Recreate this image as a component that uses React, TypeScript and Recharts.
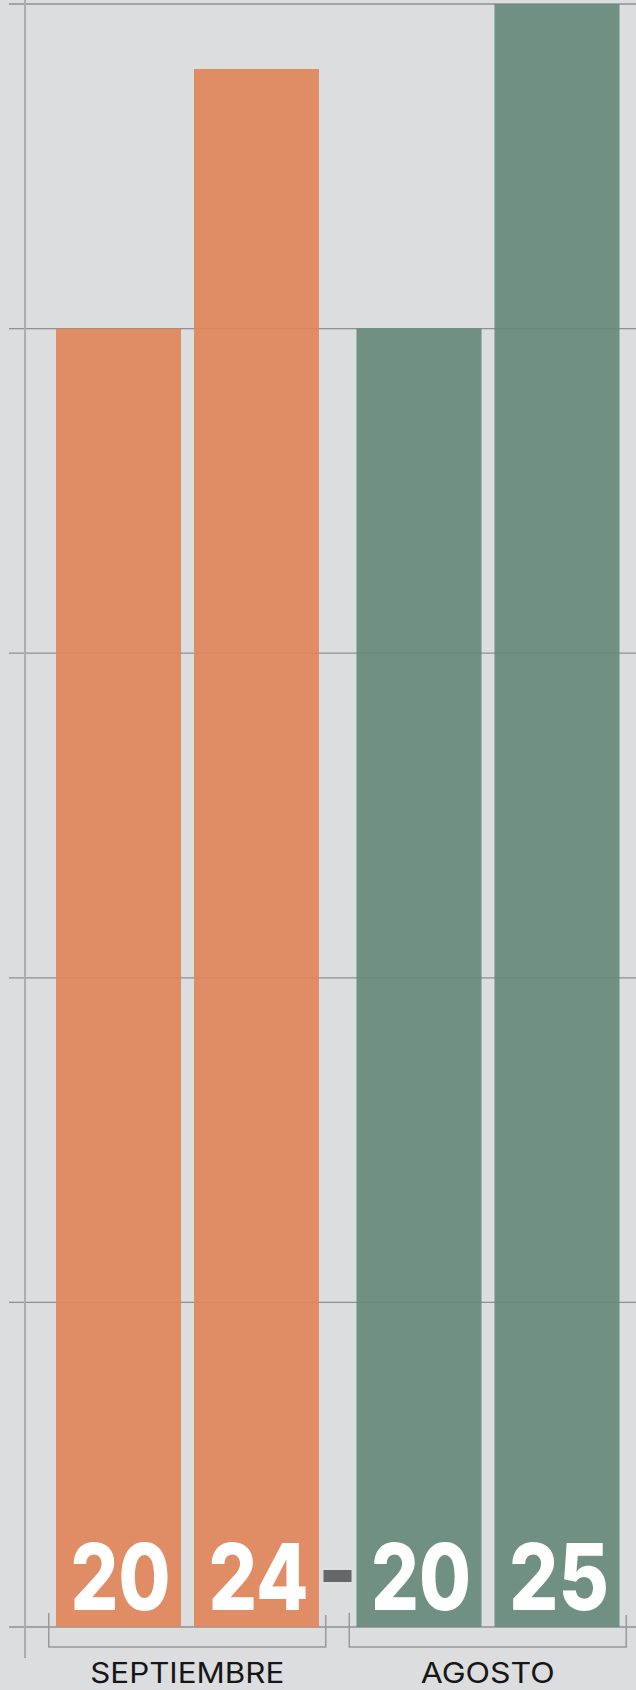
import { Bar, BarChart, CartesianGrid, Cell, LabelList, XAxis, YAxis } from "recharts";

const months = ["SEPTIEMBRE", "AGOSTO"];
const firstValues = [4, 4];
const secondValues = [4.8, 5];
const firstLabels = ["20", "20"];
const secondLabels = ["24", "25"];
const yTicks = [0, 1, 2, 3, 4, 5];

const COLORS = ["#e0845a", "#65897a"];
const BG = "#dcdddf";
// widths of the month labels in the original lettering
const MONTH_WIDTH: Record<string, number> = { SEPTIEMBRE: 194, AGOSTO: 134 };

const W = 640;
const H = 1690;
const MARGIN = { top: 4, right: 2, bottom: 0, left: 9 };
const PAD_LEFT = 28;
const BAND = (W - MARGIN.left - MARGIN.right - PAD_LEFT) / months.length;

const data = months.map((m, i) => ({
  month: m,
  first: firstValues[i],
  second: secondValues[i],
  firstLabel: firstLabels[i],
  secondLabel: secondLabels[i],
}));

function YearLabel(props: any) {
  const { x, y, width, height, value } = props;
  const bottom = y + height;
  return (
    <text
      x={x + width / 2 + 2}
      y={bottom - 17}
      textAnchor="middle"
      fill="#ffffff"
      fontFamily="Inter, sans-serif"
      fontWeight={800}
      fontSize={92}
      textLength={100}
      lengthAdjust="spacingAndGlyphs"
    >
      {value}
    </text>
  );
}

function MonthTick(props: any) {
  const { x, y, payload, index } = props;
  const base = y;
  const half = 138.5;
  return (
    <g>
      <path
        d={`M${x - half},${base - 16} V${base + 18} H${x + half} V${base - 14}`}
        fill="none"
        stroke="#98999b"
        strokeWidth={1.5}
      />
      <text
        x={x}
        y={base + 54}
        textAnchor="middle"
        fill="#161616"
        fontFamily="Inter, sans-serif"
        fontSize={28}
        textLength={MONTH_WIDTH[payload.value]}
        lengthAdjust="spacingAndGlyphs"
      >
        {payload.value}
      </text>
      {index === 0 && (
        <rect x={x + BAND / 2 - 14} y={base - 59} width={28} height={12} fill="#666769" />
      )}
    </g>
  );
}

export default function App() {
  return (
    <div style={{ position: "relative", width: 636, height: H, overflow: "hidden", background: BG }}>
      <style>{"body{margin:0;background:" + BG + "}"}</style>
      <BarChart width={W} height={H} data={data} margin={MARGIN} barSize={125} barGap={13}>
        <CartesianGrid vertical={false} stroke="#8e8f91" strokeWidth={1.3} />
        <YAxis hide type="number" domain={[0, 5]} ticks={yTicks} width={0} />
        <XAxis
          dataKey="month"
          height={63}
          padding={{ left: PAD_LEFT, right: 0 }}
          axisLine={false}
          tickLine={false}
          tickSize={0}
          interval={0}
          tick={<MonthTick />}
        />
        <Bar dataKey="first" isAnimationActive={false} fillOpacity={0.92}>
          {data.map((d, i) => (
            <Cell key={d.month} fill={COLORS[i]} />
          ))}
          <LabelList dataKey="firstLabel" content={<YearLabel />} />
        </Bar>
        <Bar dataKey="second" isAnimationActive={false} fillOpacity={0.92}>
          {data.map((d, i) => (
            <Cell key={d.month} fill={COLORS[i]} />
          ))}
          <LabelList dataKey="secondLabel" content={<YearLabel />} />
        </Bar>
      </BarChart>
      <div style={{ position: "absolute", left: 24, top: 0, width: 2, height: 1658, background: "#acadaf" }} />
    </div>
  );
}
